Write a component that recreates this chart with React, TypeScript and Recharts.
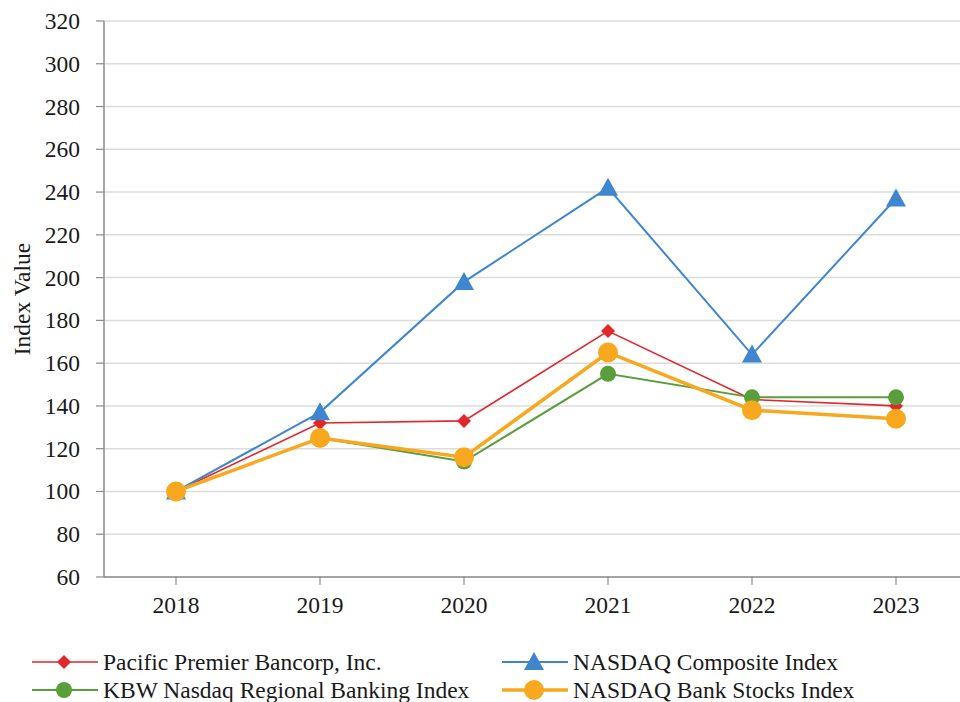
import React from "react";
import {
  LineChart,
  Line,
  XAxis,
  YAxis,
  CartesianGrid,
} from "recharts";

const years = ["2018", "2019", "2020", "2021", "2022", "2023"];
const pacificPremier = [100, 132, 133, 175, 143, 140];
const nasdaqComposite = [100, 137, 198, 242, 164, 237];
const kbwRegional = [100, 125, 114, 155, 144, 144];
const nasdaqBank = [100, 125, 116, 165, 138, 134];
const yTicks = [60, 80, 100, 120, 140, 160, 180, 200, 220, 240, 260, 280, 300, 320];

const FONT = "Liberation Serif";
const FS = 23.5;

const RED = "#e3262b";
const BLUE = "#3f86d0";
const GREEN = "#5a9e3c";
const ORANGE = "#f7a81f";

const data = years.map((year, i) => ({
  year,
  pacific: pacificPremier[i],
  composite: nasdaqComposite[i],
  kbw: kbwRegional[i],
  bank: nasdaqBank[i],
}));

const series = [
  { key: "pacific", name: "Pacific Premier Bancorp, Inc.", color: RED, width: 1.6, shape: "diamond" },
  { key: "composite", name: "NASDAQ Composite Index", color: BLUE, width: 2, shape: "triangle" },
  { key: "kbw", name: "KBW Nasdaq Regional Banking Index", color: GREEN, width: 2, shape: "smallCircle" },
  { key: "bank", name: "NASDAQ Bank Stocks Index", color: ORANGE, width: 3.5, shape: "bigCircle" },
];

function Marker({ shape, cx, cy, color }: { shape: string; cx: number; cy: number; color: string }) {
  if (shape === "diamond") {
    return <polygon points={`${cx},${cy - 7} ${cx + 7},${cy} ${cx},${cy + 7} ${cx - 7},${cy}`} fill={color} />;
  }
  if (shape === "triangle") {
    return <polygon points={`${cx},${cy - 10} ${cx + 10},${cy + 8} ${cx - 10},${cy + 8}`} fill={color} />;
  }
  if (shape === "smallCircle") {
    return <circle cx={cx} cy={cy} r={8} fill={color} />;
  }
  return <circle cx={cx} cy={cy} r={10} fill={color} />;
}

function makeDot(shape: string, color: string) {
  return (props: any) => (
    <Marker key={`${shape}-${props.index}`} shape={shape} cx={props.cx} cy={props.cy} color={color} />
  );
}

// tick renderers so the serif font is really applied
function XTick(props: any) {
  const { x, y, payload } = props;
  return (
    <text x={x} y={y} dy={20} textAnchor="middle" fontFamily={FONT} fontSize={FS} fill="#1a1a1a">
      {payload.value}
    </text>
  );
}

function YTick(props: any) {
  const { x, y, payload } = props;
  return (
    <text x={x} y={y} dy={8} textAnchor="end" fontFamily={FONT} fontSize={FS} fill="#1a1a1a">
      {payload.value}
    </text>
  );
}

function YLabel(props: any) {
  const vb = props.viewBox || { x: 0, y: 0, width: 0, height: 0 };
  const cx = vb.x + 22;
  const cy = vb.y + vb.height / 2;
  return (
    <text
      x={cx}
      y={cy}
      transform={`rotate(-90, ${cx}, ${cy})`}
      textAnchor="middle"
      dominantBaseline="central"
      fontFamily={FONT}
      fontSize={FS}
      fill="#1a1a1a"
    >
      Index Value
    </text>
  );
}

function LegendItem({ s }: { s: (typeof series)[number] }) {
  return (
    <div style={{ display: "flex", alignItems: "center", height: 28 }}>
      <svg width={70} height={28} style={{ flex: "none" }}>
        <line x1={2} y1={14} x2={68} y2={14} stroke={s.color} strokeWidth={s.width} />
        <Marker shape={s.shape} cx={34} cy={14} color={s.color} />
      </svg>
      <span style={{ marginLeft: 3, fontSize: FS, lineHeight: "28px", whiteSpace: "nowrap" }}>{s.name}</span>
    </div>
  );
}

export default function App() {
  return (
    <div
      style={{
        position: "absolute",
        left: 0,
        top: 0,
        width: 960,
        height: 702,
        overflow: "hidden",
        background: "#fff",
        fontFamily: FONT,
        color: "#1a1a1a",
      }}
    >
      <div style={{ width: 960, height: 640, overflow: "hidden" }}>
        <LineChart width={1000} height={640} data={data} margin={{ top: 21, right: 32, left: 0, bottom: 0 }}>
          <CartesianGrid vertical={false} stroke="#dcdcdc" strokeWidth={1.5} />
          <XAxis
            dataKey="year"
            height={63}
            padding={{ left: 72, right: 72 }}
            tickSize={8}
            tickMargin={8}
            axisLine={{ stroke: "#8c8c8c", strokeWidth: 1.5 }}
            tickLine={{ stroke: "#8c8c8c", strokeWidth: 1.2 }}
            tick={<XTick />}
          />
          <YAxis
            width={104}
            domain={[60, 320]}
            ticks={yTicks}
            interval={0}
            tickSize={8}
            tickMargin={16}
            axisLine={{ stroke: "#8c8c8c", strokeWidth: 1.5 }}
            tickLine={{ stroke: "#8c8c8c", strokeWidth: 1.2 }}
            tick={<YTick />}
            label={{ content: YLabel }}
          />
          {series.map((s) => (
            <Line
              key={s.key}
              type="linear"
              dataKey={s.key}
              name={s.name}
              stroke={s.color}
              strokeWidth={s.width}
              dot={makeDot(s.shape, s.color)}
              activeDot={false}
              isAnimationActive={false}
            />
          ))}
        </LineChart>
      </div>
      <div style={{ position: "absolute", left: 30, top: 648 }}>
        <LegendItem s={series[0]} />
        <LegendItem s={series[2]} />
      </div>
      <div style={{ position: "absolute", left: 500, top: 648 }}>
        <LegendItem s={series[1]} />
        <LegendItem s={series[3]} />
      </div>
    </div>
  );
}
